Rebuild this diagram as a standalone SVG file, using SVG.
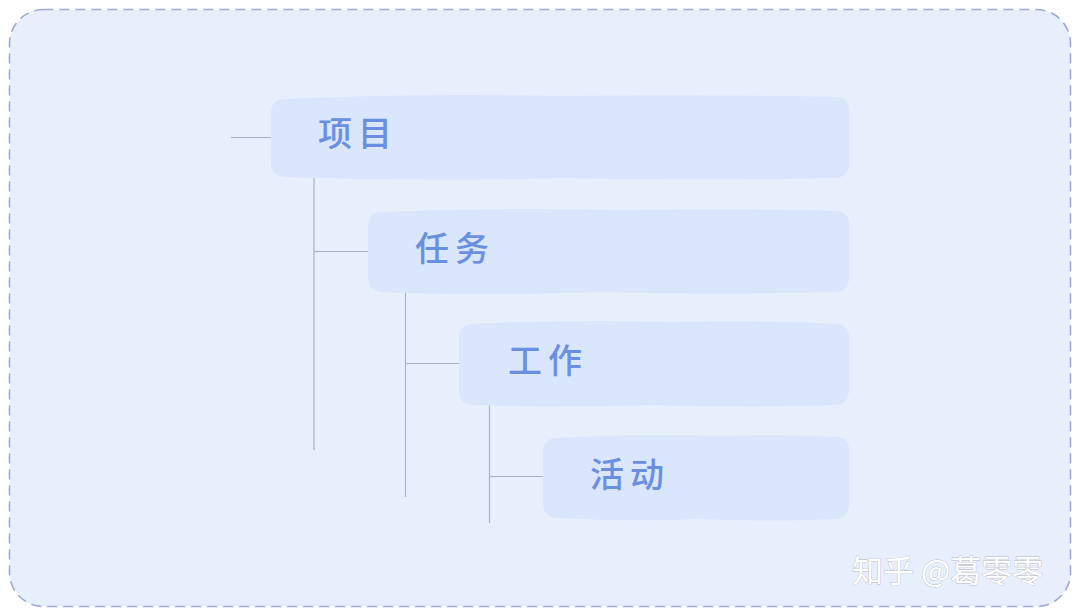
<svg xmlns="http://www.w3.org/2000/svg" width="1080" height="615" viewBox="0 0 1080 615">
<defs>
<style>
.node{fill:#d9e6fb;}
.lbl{font-family:"Noto Sans CJK SC","Noto Sans",sans-serif;font-size:34px;font-weight:500;fill:#6b8fe0;letter-spacing:6px;}
.conn line{stroke:#a9b0bf;stroke-width:1.2;}
.wm{font-family:"Noto Sans CJK SC","Noto Sans",sans-serif;font-size:31px;fill:#ffffff;stroke:#b5bac4;stroke-width:0.8;paint-order:stroke;}
</style>
</defs>
<rect width="1080" height="615" fill="#ffffff"/>
<rect x="9.5" y="9.5" width="1061" height="597" rx="34" ry="34" fill="#e7effd" stroke="#9eaad0" stroke-width="1.6" stroke-dasharray="10 6"/>
<g class="conn">
<line x1="231" y1="137.5" x2="285" y2="137.5"/>
<line x1="314" y1="178" x2="314" y2="450"/>
<line x1="314" y1="251.5" x2="368" y2="251.5"/>
<line x1="405.5" y1="292" x2="405.5" y2="497"/>
<line x1="405.5" y1="363.5" x2="459" y2="363.5"/>
<line x1="489.5" y1="405" x2="489.5" y2="523"/>
<line x1="489.5" y1="476.5" x2="543" y2="476.5"/>
</g>
<g id="n1">
<path class="node" d="M284 99 Q420 93 560 96 Q700 94 838 97 Q850 99 849 112 L849 164 Q848 178 834 178 Q700 181 560 178 Q420 182 285 177 Q271 176 271 162 L271 113 Q271 100 284 99 Z"/>
<text class="lbl" x="318" y="146">项目</text>
</g>
<g id="n2">
<path class="node" d="M381 212 Q500 207 620 210 Q740 208 838 211 Q850 213 849 226 L849 279 Q848 292 834 292 Q720 295 600 292 Q480 296 382 292 Q368 291 368 277 L368 227 Q368 213 381 212 Z"/>
<text class="lbl" x="415" y="261">任务</text>
</g>
<g id="n3">
<path class="node" d="M472 324 Q570 319 670 322 Q760 320 838 324 Q850 326 849 339 L849 391 Q848 405 834 405 Q740 408 650 405 Q560 408 473 405 Q459 404 459 390 L459 339 Q459 325 472 324 Z"/>
<text class="lbl" x="508" y="373">工作</text>
</g>
<g id="n4">
<path class="node" d="M556 438 Q640 433 720 436 Q790 434 838 437 Q850 439 849 452 L849 505 Q848 519 834 519 Q770 522 700 519 Q630 522 557 518 Q543 517 543 503 L543 452 Q543 439 556 438 Z"/>
<text class="lbl" x="590" y="487">活动</text>
</g>
<text class="wm" x="852" y="582">知乎 @葛零零</text>
</svg>
